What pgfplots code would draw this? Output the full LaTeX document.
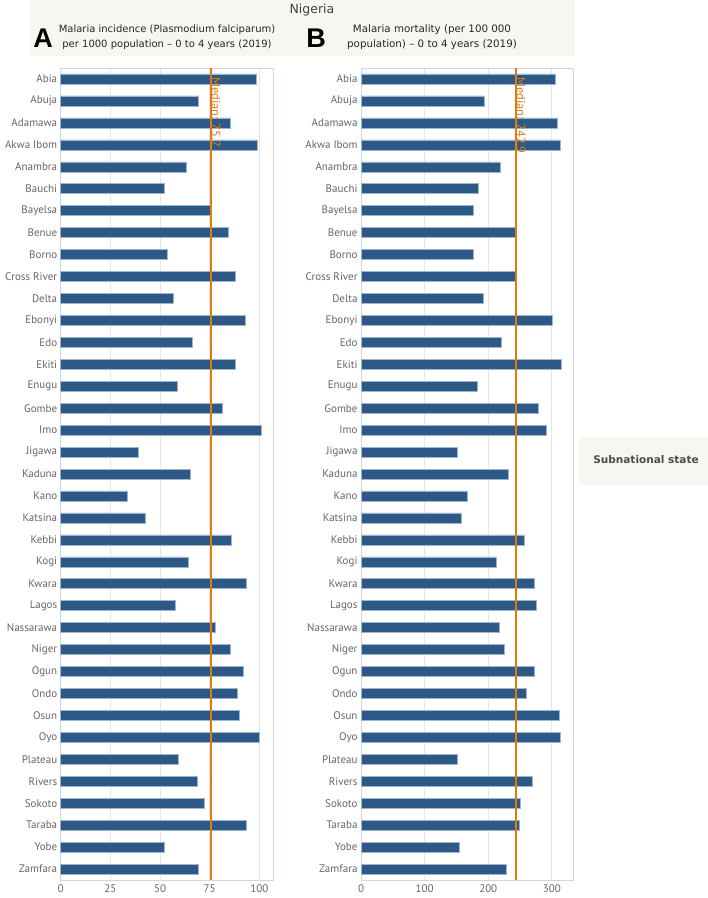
\documentclass[border=0pt]{standalone}
\usepackage{pgfplots}
\pgfplotsset{compat=1.18}
\usepackage{pgfplotstable}
\usepackage{fontspec}
\setmainfont{PT Sans}
\newfontfamily\headfont{DejaVu Sans}
\newfontfamily\bigfont{Liberation Sans}
\definecolor{barblue}{HTML}{2C5985}
\definecolor{baredge}{HTML}{9FB4CF}
\definecolor{medorange}{HTML}{E07B12}
\definecolor{axisline}{HTML}{CCD6EB}
\definecolor{gridc}{HTML}{E6E6E6}
\definecolor{labgray}{HTML}{666666}
\definecolor{boxbg}{HTML}{F7F6F0}

\pgfplotstableread{
idx inc mort
0 98.7 305
1 69.3 194
2 85.2 309
3 99.2 313.5
4 63.1 219
5 52.0 184
6 75.3 177
7 84.2 243
8 53.5 177
9 88.1 243
10 56.7 192.7
11 92.8 301
12 66.4 220.4
13 88.1 315
14 58.7 182.7
15 81.5 279
16 101.2 291.6
17 39.1 151.8
18 65.3 231
19 33.4 166.5
20 42.6 158
21 85.8 257
22 64.3 212
23 93.6 272.7
24 57.7 274.8
25 77.7 217.8
26 85.2 225
27 91.8 272.7
28 88.9 260
29 89.9 311
30 100.2 312.5
31 59.2 151.8
32 68.8 268.6
33 72.2 250.8
34 93.2 248
35 52.0 155
36 69.3 227.8
}\datatable

\pgfplotstableread{
x y
75.7 -0.5
75.7 36.5
}\medA
\pgfplotstableread{
x y
243.5 -0.5
243.5 36.5
}\medB

\pgfplotsset{
  panel/.style={
    anchor=south west,
    width=212.5bp, height=812bp, scale only axis,
    ymin=-0.5, ymax=36.5, y dir=reverse,
    ytick={0,...,36},
    yticklabels={Abia,Abuja,Adamawa,Akwa Ibom,Anambra,Bauchi,Bayelsa,Benue,Borno,Cross River,Delta,Ebonyi,Edo,Ekiti,Enugu,Gombe,Imo,Jigawa,Kaduna,Kano,Katsina,Kebbi,Kogi,Kwara,Lagos,Nassarawa,Niger,Ogun,Ondo,Osun,Oyo,Plateau,Rivers,Sokoto,Taraba,Yobe,Zamfara},
    xmajorgrids, grid style={gridc, line width=0.8bp},
    axis line style={axisline, line width=0.8bp},
    major tick style={draw=none}, minor tick style={draw=none},
    ticklabel style={font=\fontsize{11bp}{13bp}\selectfont, text=labgray},
    xticklabel style={yshift=-1bp},
    /pgf/number format/assume math mode=true,
    clip=false,
  },
  bars/.style={xbar, bar width=10bp, fill=barblue, draw=baredge, line width=0.5bp},
}
\tikzset{
  medlab/.style={rotate=-90, anchor=south west, inner sep=0.3bp, text=medorange, font=\fontsize{12.5bp}{14bp}\selectfont},
  hd/.style={font=\headfont\fontsize{10bp}{12bp}\selectfont, text=black!85, inner sep=0pt},
}

\begin{document}
\begin{tikzpicture}
\fill[white] (0,0) rectangle (708bp,-898bp);
\useasboundingbox (0,0) rectangle (708bp,-898bp);

% header
\fill[boxbg] (30bp,0) rectangle (575bp,-56bp);
\node[font=\headfont\fontsize{12.5bp}{14bp}\selectfont, text=black!75] at (312bp,-10bp) {Nigeria};
\node[font=\bigfont\bfseries\fontsize{27bp}{28bp}\selectfont, anchor=center] at (43bp,-38bp) {A};
\node[hd] at (167bp,-30bp) {Malaria incidence (Plasmodium falciparum)};
\node[hd] at (167bp,-45bp) {per 1000 population – 0 to 4 years (2019)};
\node[font=\bigfont\bfseries\fontsize{27bp}{28bp}\selectfont, anchor=center] at (316bp,-38bp) {B};
\node[hd, font=\headfont\fontsize{10.3bp}{12bp}\selectfont] at (432bp,-30bp) {Malaria mortality (per 100 000};
\node[hd, font=\headfont\fontsize{10.3bp}{12bp}\selectfont] at (432bp,-45bp) {population) – 0 to 4 years (2019)};

% side label
\fill[boxbg] (579bp,-437bp) rectangle (708bp,-485bp);
\node[font=\headfont\bfseries\fontsize{10.5bp}{12bp}\selectfont, text=black!70] at (646bp,-460bp) {Subnational state};

\begin{axis}[panel, at={(60.7bp,-880bp)}, xmin=0, xmax=107, xtick={0,25,50,75,100}]
\addplot[bars] table[x=inc, y=idx] {\datatable};
\addplot[medorange, line width=2bp, mark=none, forget plot] table[x=x, y=y] {\medA};
\node[medlab] at (axis cs:75.7,-0.1) {Median: 75.7};
\end{axis}

\begin{axis}[panel, at={(361bp,-880bp)}, xmin=0, xmax=334, xtick={0,100,200,300}]
\addplot[bars] table[x=mort, y=idx] {\datatable};
\addplot[medorange, line width=2bp, mark=none, forget plot] table[x=x, y=y] {\medB};
\node[medlab] at (axis cs:243.5,-0.1) {Median: 242.9};
\end{axis}
\end{tikzpicture}
\end{document}
